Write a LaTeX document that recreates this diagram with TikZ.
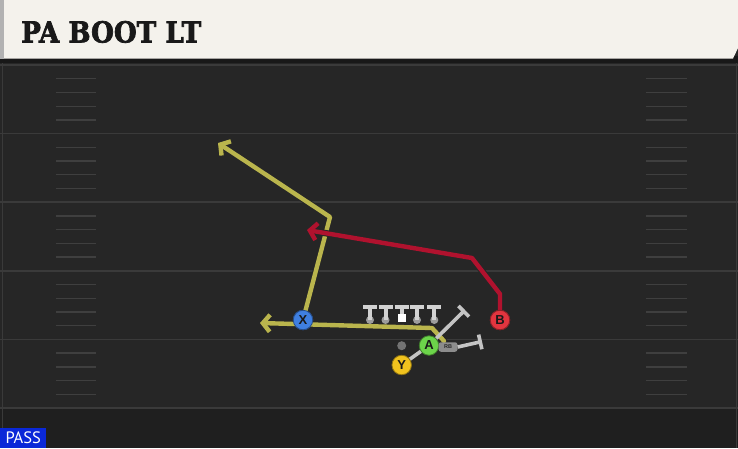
\documentclass[tikz,border=0pt]{standalone}
\usepackage{fontspec}
\usetikzlibrary{arrows.meta}
\newfontfamily\titlefont[FakeBold=2.5]{DejaVu Serif}
\newfontfamily\passfont{PT Sans}
\newfontfamily\plfont{Liberation Sans}
\definecolor{fieldbg}{HTML}{262626}
\definecolor{bottombg}{HTML}{1F1F1F}
\definecolor{yardc}{HTML}{3A3A3A}
\definecolor{hashc}{HTML}{3F3F3F}
\definecolor{headbg}{HTML}{F4F2EC}
\definecolor{headshadow}{HTML}{181818}
\definecolor{yroute}{HTML}{BAB54D}
\definecolor{rroute}{HTML}{B0122E}
\definecolor{blkc}{HTML}{C4C4C4}
\definecolor{olc}{HTML}{D2D2D2}
\definecolor{oldot}{HTML}{9C9C9C}
\definecolor{pblue}{HTML}{3F7FE0}
\definecolor{pred}{HTML}{E2353F}
\definecolor{pgreen}{HTML}{6CD44A}
\definecolor{pyellow}{HTML}{F0C21E}
\definecolor{passblue}{HTML}{0A28D8}
\tikzset{
  yard/.style={draw=yardc, line width=1.6pt},
  hash/.style={draw=hashc, line width=1.3pt},
  outl/.style={draw=black!85, line width=6.4pt, line cap=round, line join=round, -{Straight Barb[length=7pt,width=17pt]}},
  yr/.style={draw=yroute, line width=4.4pt, line cap=round, line join=round, -{Straight Barb[length=7pt,width=17pt]}},
  rr/.style={draw=rroute, line width=4.4pt, line cap=round, line join=round, -{Straight Barb[length=7pt,width=17pt]}},
  blk/.style={draw=blkc, line width=3.6pt, -{Bar[width=15pt,line width=3.6pt]}},
  player/.style={circle, minimum size=19.5pt, inner sep=0pt, line width=0.8pt, text=black!90,
    font=\plfont\bfseries\fontsize{13}{13}\selectfont},
  oldotst/.style={circle, fill=oldot, minimum size=8pt, inner sep=0pt},
  olt/.style={draw=olc, line width=4pt},
}
\begin{document}
\begin{tikzpicture}[x=1pt,y=-1pt]
\useasboundingbox (0,0) rectangle (738,448);
\fill[fieldbg] (0,0) rectangle (738,448);
\fill[bottombg] (0,408) rectangle (738,448);
\draw[yardc, line width=1pt] (2,60) -- (2,448);
\draw[yardc, line width=1pt] (736.5,60) -- (736.5,448);
% yard lines and hashes
\foreach \k in {0,...,5} {
  \draw[yard] (0,65+68.6*\k) -- (738,65+68.6*\k);
}
\foreach \k in {0,...,4} {
  \foreach \j in {1,...,4} {
    \draw[hash] (56,65+68.6*\k+13.72*\j) -- (96,65+68.6*\k+13.72*\j);
    \draw[hash] (646,65+68.6*\k+13.72*\j) -- (687,65+68.6*\k+13.72*\j);
  }
}
% header
\fill[headshadow] (0,56) rectangle (738,63);
\fill[headbg] (4,0) -- (738,0) -- (738,48) -- (733,58.5) -- (4,58.5) -- cycle;
\fill[black!30] (0,0) rectangle (4,58.5);
\node[anchor=base west, inner sep=0pt, text=black!90] (title) at (21,42.5)
  {\resizebox{180pt}{21.5pt}{\titlefont\bfseries PA BOOT LT}};
% coordinates
\coordinate (x1) at (330,217);
\coordinate (x2) at (218,143);
\coordinate (b1) at (500,294);
\coordinate (b2) at (472,258);
\coordinate (b3) at (307,230);
\coordinate (q0) at (444,341);
\coordinate (q1) at (432,328);
\coordinate (q2) at (260,323);
\coordinate (t1) at (465,310);
\coordinate (t2) at (482,341.5);
% players (positions)
\path (303,320) coordinate (Xp) (500,320) coordinate (Bp) (429,345.5) coordinate (Ap) (401.7,365) coordinate (Yp);
\node[player, fill=pblue, draw=pblue!60!black] (X) at (Xp) {X};
\node[player, fill=pred, draw=pred!60!black] (B) at (Bp) {B};
% routes
\draw[outl] (X) -- (x1) -- (x2);
\draw[yr] (X) -- (x1) -- (x2);
\draw[outl] (B.north) -- (b1) -- (b2) -- (b3);
\draw[rr] (B.north) -- (b1) -- (b2) -- (b3);
\draw[outl] (q0) -- (q1) -- (q2);
\draw[yr] (q0) -- (q1) -- (q2);
% redraw players on top
\node[player, fill=pblue, draw=pblue!60!black] at (Xp) {X};
\node[player, fill=pred, draw=pred!60!black] at (Bp) {B};
% offensive line
\foreach \n/\x in {1/370,2/385.5,4/417,5/434.3} {
  \node[oldotst] (ol\n) at (\x,320) {};
  \draw[olt] (ol\n.center) -- (\x,307);
  \draw[olt] (\x-7,307) -- (\x+7,307);
}
\node[fill=white, minimum size=8pt, inner sep=0pt] (ol3) at (401.7,318) {};
\draw[olt] (ol3.north) -- (401.7,307);
\draw[olt] (401.7-7,307) -- (401.7+7,307);
% backs
\node[circle, fill=black!55, minimum size=9pt, inner sep=0pt] (gd) at (401.7,345.7) {};
\draw[blkc, line width=3.6pt] (Yp) -- (Ap);
\node[player, fill=pgreen, draw=pgreen!60!black] (A) at (Ap) {A};
\node[player, fill=pyellow, draw=pyellow!60!black] (Y) at (Yp) {Y};
\draw[blk] (A) -- (t1);
\node[rounded corners=2.5pt, fill=black!45, minimum width=19pt, minimum height=9.5pt, inner sep=0pt,
  text=black!85, font=\plfont\bfseries\fontsize{5.5}{5.5}\selectfont] (RB) at (448,347) {RB};
\draw[blk] (RB.east) -- (t2);
% PASS label
\node[fill=passblue, anchor=south west, minimum width=46pt, minimum height=20pt, inner sep=0pt,
  text=white, font=\passfont\fontsize{16.5}{16.5}\selectfont] (pass) at (0,448) {PASS};
\end{tikzpicture}
\end{document}
